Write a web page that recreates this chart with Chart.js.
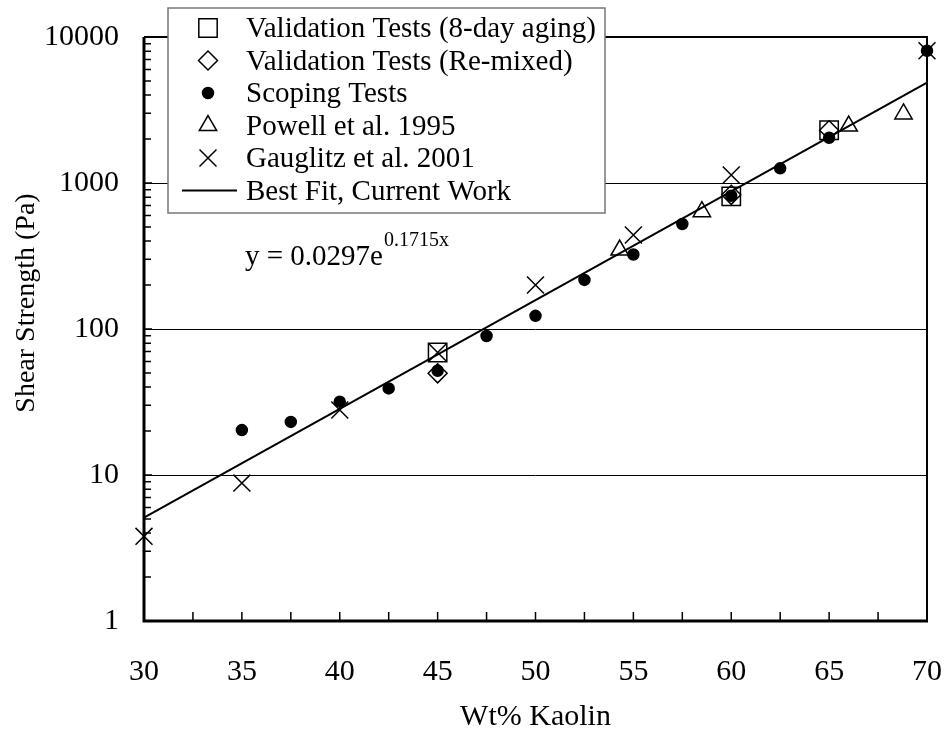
<!DOCTYPE html>
<html>
<head>
<meta charset="utf-8">
<script src="https://cdn.jsdelivr.net/npm/chart.js@4"></script>
<style>
  body { margin: 0; background: #fff; }
  canvas { display: block; }
</style>
</head>
<body>
<canvas id="chart" width="946" height="730"></canvas>
<script>
// values
const agingX = [45, 60, 65];
const agingY = [69, 810, 2300];
const remixX = [45, 60, 65];
const remixY = [49.7, 830, 2300];
const scopingX = [35, 37.5, 40, 42.5, 45, 47.5, 50, 52.5, 55, 57.5, 60, 62.5, 65, 70];
const scopingY = [20.3, 23.1, 31.8, 39.2, 51.8, 89.5, 123, 217, 324, 524, 818, 1261, 2042, 8050];
const powellX = [54.3, 58.5, 66, 68.8];
const powellY = [347, 636, 2455, 2970];
const gauglitzX = [30, 35, 40, 45, 50, 55, 60, 70];
const gauglitzY = [3.8, 8.8, 27.9, 69, 200, 440, 1135, 8050];
const fitX = [30, 70];
const fitY = [5.1, 4870];

const xTicks = [30, 35, 40, 45, 50, 55, 60, 65, 70];
const yTicks = [1, 10, 100, 1000, 10000];

const seriesLabels = [
    'Validation Tests (8-day aging)',
    'Validation Tests (Re-mixed)',
    'Scoping Tests',
    'Powell et al. 1995',
    'Gauglitz et al. 2001',
    'Best Fit, Current Work',
];
const equationMain = 'y = 0.0297e';
const equationExp = '0.1715x';

const serif = "'Liberation Serif', 'Times New Roman', serif";

function points(xs, ys) {
    return xs.map((x, i) => ({ x, y: ys[i] }));
}

function markerSet(label, xs, ys, style, radius, fill) {
    return {
        label,
        data: points(xs, ys),
        pointStyle: style,
        pointRadius: radius,
        pointHoverRadius: radius,
        pointBorderWidth: 1.5,
        borderColor: '#000',
        backgroundColor: fill,
        pointBackgroundColor: fill,
        showLine: false,
        clip: false,
    };
}

const datasets = [
    markerSet(seriesLabels[0], agingX, agingY, 'rect', 13, 'rgba(0,0,0,0)'),
    markerSet(seriesLabels[1], remixX, remixY, 'rectRot', 9.5, 'rgba(0,0,0,0)'),
    markerSet(seriesLabels[2], scopingX, scopingY, 'circle', 5.5, '#000'),
    markerSet(seriesLabels[3], powellX, powellY, 'triangle', 10, 'rgba(0,0,0,0)'),
    markerSet(seriesLabels[4], gauglitzX, gauglitzY, 'crossRot', 12, '#000'),
    {
        label: seriesLabels[5],
        data: points(fitX, fitY),
        showLine: true,
        borderColor: '#000',
        borderWidth: 2,
        pointRadius: 0,
        pointStyle: 'line',
        clip: false,
    },
];

// frame + inside tick marks
const framePlugin = {
    id: 'frame',
    beforeDatasetsDraw(chart) {
        const { ctx, chartArea: a, scales } = chart;
        ctx.save();
        ctx.strokeStyle = '#000';
        ctx.lineWidth = 1.5;
        ctx.beginPath();
        for (let v = 32.5; v < 70; v += 2.5) {
            const px = scales.x.getPixelForValue(v);
            ctx.moveTo(px, a.bottom);
            ctx.lineTo(px, a.bottom - 9);
        }
        for (let d = 1; d < 10000; d *= 10) {
            for (let k = 1; k < 10; k++) {
                const py = scales.y.getPixelForValue(k * d);
                ctx.moveTo(a.left, py);
                ctx.lineTo(a.left + (k === 1 ? 8 : 7), py);
            }
        }
        ctx.stroke();

        ctx.lineWidth = 2;
        ctx.beginPath();
        ctx.moveTo(a.left, a.top);
        ctx.lineTo(a.right, a.top);
        ctx.lineTo(a.right, a.bottom);
        ctx.stroke();

        ctx.lineWidth = 3;
        ctx.beginPath();
        ctx.moveTo(a.left, a.top);
        ctx.lineTo(a.left, a.bottom);
        ctx.lineTo(a.right + 1, a.bottom);
        ctx.stroke();
        ctx.restore();
    },
};

// legend box, equation and axis titles
const textPlugin = {
    id: 'texts',
    afterDraw(chart) {
        const { ctx, chartArea: a } = chart;
        ctx.save();

        const box = { x: 168, y: 8, w: 437, h: 205 };
        ctx.fillStyle = '#fff';
        ctx.fillRect(box.x, box.y, box.w, box.h);
        ctx.strokeStyle = '#777';
        ctx.lineWidth = 1.5;
        ctx.strokeRect(box.x, box.y, box.w, box.h);

        ctx.font = `29px ${serif}`;
        ctx.fillStyle = '#000';
        ctx.textAlign = 'left';
        ctx.textBaseline = 'alphabetic';
        chart.data.datasets.forEach((ds, i) => {
            const base = 37 + i * 32.5;
            const my = base - 9;
            if (ds.showLine) {
                ctx.strokeStyle = '#000';
                ctx.lineWidth = 2;
                ctx.beginPath();
                ctx.moveTo(182, my);
                ctx.lineTo(237, my);
                ctx.stroke();
            } else {
                ctx.strokeStyle = '#000';
                ctx.fillStyle = ds.pointBackgroundColor;
                ctx.lineWidth = 1.5;
                Chart.helpers.drawPoint(ctx, {
                    pointStyle: ds.pointStyle,
                    radius: ds.pointRadius,
                    rotation: 0,
                    borderWidth: 1.5,
                }, 208, my);
            }
            ctx.fillStyle = '#000';
            ctx.fillText(ds.label, 246, base);
        });

        ctx.font = `29px ${serif}`;
        ctx.fillText(equationMain, 245, 265);
        const w = ctx.measureText(equationMain).width;
        ctx.font = `20px ${serif}`;
        ctx.fillText(equationExp, 245 + w + 1, 246);

        ctx.font = `30px ${serif}`;
        ctx.textAlign = 'center';
        ctx.fillText('Wt% Kaolin', (a.left + a.right) / 2, 725);

        ctx.font = `28px ${serif}`;
        ctx.translate(34, 303);
        ctx.rotate(-Math.PI / 2);
        ctx.fillText('Shear Strength (Pa)', 0, 0);
        ctx.restore();
    },
};

new Chart(document.getElementById('chart'), {
    type: 'scatter',
    data: { datasets },
    options: {
        responsive: false,
        animation: false,
        events: [],
        layout: { padding: { top: 37, right: 19, left: 0, bottom: 0 } },
        plugins: {
            legend: { display: false },
            tooltip: { enabled: false },
        },
        scales: {
            x: {
                type: 'linear',
                min: 30,
                max: 70,
                afterFit: (scale) => {
                    scale.height = 109;
                    scale.paddingLeft = 0;
                    scale.paddingRight = 0;
                },
                afterBuildTicks: (scale) => { scale.ticks = xTicks.map(v => ({ value: v })); },
                grid: { display: false, drawTicks: false },
                border: { display: false },
                ticks: {
                    color: '#000',
                    padding: 33,
                    maxRotation: 0,
                    font: { family: serif, size: 30 },
                },
            },
            y: {
                type: 'logarithmic',
                min: 1,
                max: 10000,
                afterFit: (scale) => {
                    scale.width = 144;
                    scale.paddingTop = 0;
                    scale.paddingBottom = 0;
                },
                afterBuildTicks: (scale) => { scale.ticks = yTicks.map(v => ({ value: v })); },
                grid: {
                    drawTicks: false,
                    color: '#000',
                    lineWidth: 1,
                },
                border: { display: false },
                ticks: {
                    color: '#000',
                    padding: 25,
                    font: { family: serif, size: 30 },
                    callback: (v) => String(v),
                },
            },
        },
    },
    plugins: [framePlugin, textPlugin],
});
</script>
</body>
</html>
